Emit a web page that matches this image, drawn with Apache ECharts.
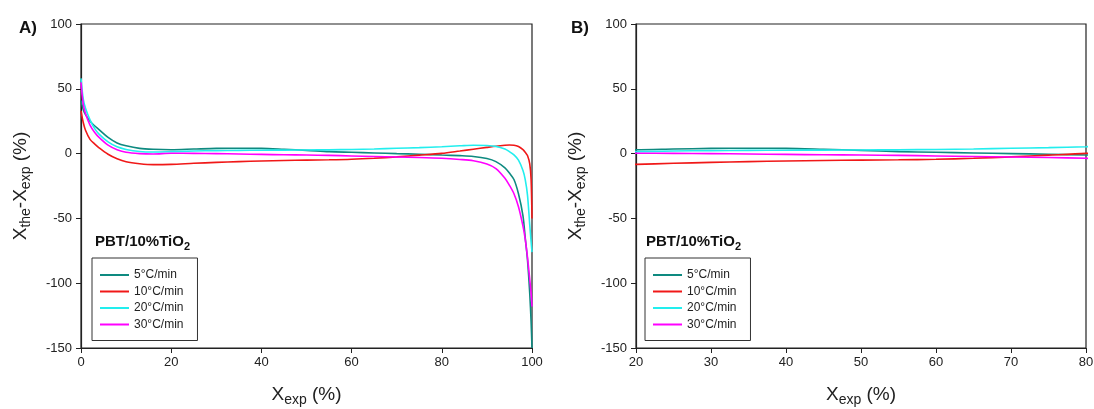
<!DOCTYPE html>
<html>
<head>
<meta charset="utf-8">
<script src="https://cdn.jsdelivr.net/npm/echarts@6/dist/echarts.min.js"></script>
<style>
  html, body { margin: 0; padding: 0; background: #fff; }
  #main { width: 1094px; height: 409px; }
</style>
</head>
<body>
<div id="main"></div>
<script>
// X_exp (%) sample positions
const xExp = [0, 0.5, 1, 2, 3, 4, 6, 8, 10, 13, 16, 20, 25, 30, 35, 40, 45, 50, 55, 60, 65, 70, 75, 80,
  84, 87, 90, 92, 94, 95, 96, 97, 98, 98.5, 99, 99.5, 99.8, 100]

// X_the - X_exp (%) for each heating rate
const rate5 = [41, 34, 30, 25, 21.5, 18.5, 12.5, 8.2, 6, 4, 3.3, 3, 3.5, 4, 4.1, 4, 3.3, 2.5, 1.5, 1, 0.5, 0, -0.5, -1.1,
  -1.6, -2.2, -3.8, -6.2, -11, -15, -20, -31, -48, -65, -82, -108, -130, -150]
const rate10 = [33, 24, 18, 11, 7.5, 4.5, -0.5, -4, -6.3, -7.8, -8.5, -8.3, -7.5, -6.8, -6.2, -5.7, -5.3, -5, -4.8, -4.4, -3.6, -2.5, -1.2, 0.2,
  2, 3.4, 4.8, 5.7, 6.4, 6.6, 6.5, 5.5, 3, 1, -1.5, -8, -20, -50]
const rate20 = [58, 42, 35, 26, 19.5, 15, 9, 5.2, 3.2, 1.6, 1.2, 1.5, 2, 2.3, 2.5, 2.6, 2.7, 2.8, 2.9, 3.2, 3.6, 4.1, 4.6, 5.3,
  6, 6.5, 6.3, 5.6, 3.5, 1.5, -1, -5, -13, -20, -32, -55, -68, -76]
const rate30 = [55, 38, 31, 22, 16.5, 12.5, 6.5, 3, 1, 0, -0.3, 0.3, 0.2, 0, -0.3, -0.6, -0.9, -1.1, -1.4, -1.8, -2.2, -2.6, -3, -3.6,
  -4.5, -5.5, -8, -11.5, -19, -24.5, -31, -41, -56, -66, -80, -97, -108, -118]

const names = ['5°C/min', '10°C/min', '20°C/min', '30°C/min']
const colors = ['#0e8a80', '#f01818', '#22eeee', '#ff00ff']
const allRates = [rate5, rate10, rate20, rate30]

const xRangeA = [0, 100, 20]
const xRangeB = [20, 80, 10]

const FONT = '"Liberation Sans", Arial, sans-serif'

var myChart = echarts.init(document.getElementById('main'))

function pairs(ys) {
  return xExp.map((x, i) => [x, ys[i]])
}

// 轴名下标
const nameRich = {
  a: { fontSize: 19, fontFamily: FONT, color: '#222', lineHeight: 24, verticalAlign: 'middle' },
  b: { fontSize: 14, fontFamily: FONT, color: '#222', lineHeight: 12, verticalAlign: 'bottom' },
}

function xAxisOf(idx, range) {
  return {
    type: 'value',
    gridIndex: idx,
    min: range[0],
    max: range[1],
    interval: range[2],
    name: '{a|X}{b|exp}{a| (%)}',
    nameLocation: 'middle',
    nameGap: 35,
    nameTextStyle: { rich: nameRich },
    splitLine: { show: false },
    axisLine: { show: true, onZero: false, lineStyle: { color: '#222', width: 1.2 } },
    axisTick: { show: true, length: 5, lineStyle: { color: '#222' } },
    axisLabel: { color: '#222', fontSize: 13, fontFamily: FONT, margin: 8 },
  }
}

function yAxisOf(idx) {
  return {
    type: 'value',
    gridIndex: idx,
    min: -150,
    max: 100,
    interval: 50,
    name: '{a|X}{b|the}{a|-X}{b|exp}{a| (%)}',
    nameLocation: 'middle',
    nameRotate: 90,
    nameGap: 48,
    nameTextStyle: { rich: nameRich },
    splitLine: { show: false },
    axisLine: { show: true, onZero: false, lineStyle: { color: '#222', width: 1.2 } },
    axisTick: { show: true, length: 5, lineStyle: { color: '#222' } },
    axisLabel: { color: '#222', fontSize: 13, fontFamily: FONT, margin: 9 },
  }
}

function legendOf(left) {
  return {
    data: names,
    orient: 'vertical',
    left: left,
    top: 258,
    icon: 'rect',
    itemWidth: 29,
    itemHeight: 2,
    itemGap: 2.5,
    padding: [10, 14, 9, 8],
    borderColor: '#333',
    borderWidth: 1,
    selectedMode: false,
    textStyle: { fontSize: 12, fontFamily: FONT, color: '#222', lineHeight: 14 },
  }
}

const pbtRich = {
  a: { fontSize: 15, fontWeight: 'bold', fontFamily: FONT, color: '#111', lineHeight: 20, verticalAlign: 'middle' },
  b: { fontSize: 11, fontWeight: 'bold', fontFamily: FONT, color: '#111', lineHeight: 10, verticalAlign: 'bottom' },
}

const series = []
;[0, 1].forEach((g) => {
  allRates.forEach((ys, i) => {
    series.push({
      name: names[i],
      type: 'line',
      xAxisIndex: g,
      yAxisIndex: g,
      symbol: 'none',
      smooth: 0.3,
      clip: true,
      lineStyle: { color: colors[i], width: 1.6 },
      itemStyle: { color: colors[i] },
      data: pairs(ys),
    })
  })
})

var option = {
  animation: false,
  backgroundColor: '#fff',
  title: [
    { text: 'A)', left: 14, top: 15, textStyle: { fontSize: 17, fontWeight: 'bold', fontFamily: FONT, color: '#111' } },
    { text: 'B)', left: 566, top: 15, textStyle: { fontSize: 17, fontWeight: 'bold', fontFamily: FONT, color: '#111' } },
    { text: '{a|PBT/10%TiO}{b|2}', left: 90, top: 227, textStyle: { rich: pbtRich } },
    { text: '{a|PBT/10%TiO}{b|2}', left: 641, top: 227, textStyle: { rich: pbtRich } },
  ],
  grid: [
    { left: 81, right: 562, top: 24, bottom: 61, outerBoundsMode: 'none', show: true, borderColor: '#222', borderWidth: 1.2 },
    { left: 636, right: 8, top: 24, bottom: 61, outerBoundsMode: 'none', show: true, borderColor: '#222', borderWidth: 1.2 },
  ],
  legend: [legendOf(92), legendOf(645)],
  xAxis: [xAxisOf(0, xRangeA), xAxisOf(1, xRangeB)],
  yAxis: [yAxisOf(0), yAxisOf(1)],
  series: series,
}

option && myChart.setOption(option)
</script>
</body>
</html>
